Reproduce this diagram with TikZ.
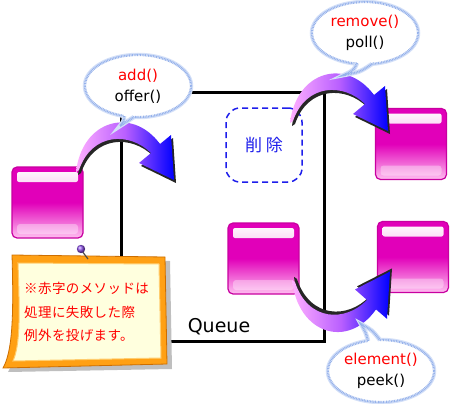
\documentclass[tikz,border=0pt]{standalone}
\usepackage{fontspec}
\setmainfont{DejaVu Sans}
\newfontfamily\jpnotefont{Noto Sans CJK JP}[LetterSpace=3]
\newfontfamily\jpwidefont{Noto Sans CJK JP}[LetterSpace=22]
\usetikzlibrary{shapes.geometric, calc}

\definecolor{magM}{RGB}{225,0,185}
\definecolor{magD}{RGB}{200,0,160}
\definecolor{magL}{RGB}{255,190,240}
\definecolor{arrPink}{RGB}{255,175,255}
\definecolor{arrViolet}{RGB}{185,95,255}
\definecolor{arrBlue}{RGB}{0,0,255}
\definecolor{bubLine}{RGB}{150,178,235}
\definecolor{bubHalo}{RGB}{212,224,248}
\definecolor{noteEdge}{RGB}{255,160,20}
\definecolor{noteDark}{RGB}{205,110,0}
\definecolor{noteFill}{RGB}{255,255,222}
\definecolor{noteInner}{RGB}{255,205,110}
\definecolor{noteRed}{RGB}{255,0,0}
\definecolor{pinViolet}{RGB}{140,80,230}
\definecolor{delBlue}{RGB}{30,30,235}

\tikzset{
  bigarrow/.pic={
    \fill[black!85, shift={(2,3)}] (0,0) .. controls (6,-52) and (56,-66) .. (84,-28) -- (95,-37) -- (98,8) -- (63,-9) -- (75,-19) .. controls (54,-40) and (16,-40) .. (3,-2) -- cycle;
    \shade[left color=arrPink, right color=arrBlue, middle color=arrViolet] (0,0) .. controls (6,-52) and (56,-66) .. (84,-28) -- (95,-37) -- (98,8) -- (63,-9) -- (75,-19) .. controls (54,-40) and (16,-40) .. (3,-2) -- cycle;
  }
}

\begin{document}
\begin{tikzpicture}[x=1pt, y=-1pt,
    queuebox/.style={rectangle, draw=black, line width=3pt, minimum width=203pt, minimum height=248pt, inner sep=0pt},
    glossbox/.style={rectangle, rounded corners=5pt, minimum width=71pt, minimum height=71pt, draw=magD, line width=1.2pt,
      top color=magM, bottom color=magL, middle color=magM,
      path picture={
        \shade[top color=white, bottom color=magM!60, rounded corners=2pt]
          ($(path picture bounding box.north west)+(5pt,-5pt)$) rectangle ($(path picture bounding box.north east)+(-5pt,-15pt)$);
        \fill[white, opacity=.35, rounded corners=3pt]
          ($(path picture bounding box.south west)+(5pt,4pt)$) rectangle ($(path picture bounding box.south east)+(-5pt,14pt)$);
      }},
    delbox/.style={rectangle, rounded corners=14pt, draw=delBlue, line width=1.5pt, dash pattern=on 6pt off 4pt, minimum width=76pt, minimum height=74pt, text=delBlue, font=\jpwidefont\fontsize{17}{20}\selectfont},
    bubble/.style={ellipse, fill=white, draw=bubLine, line width=2.2pt, dash pattern=on 0.9pt off 0.7pt,
      preaction={draw=bubHalo, line width=4.5pt, solid},
      minimum width=106pt, minimum height=62pt, inner sep=0pt, align=center, font=\fontsize{15}{21}\selectfont},
    bubedge/.style={draw=bubLine, line width=2.2pt, dash pattern=on 0.9pt off 0.7pt, preaction={draw=bubHalo, line width=4.5pt, solid}},
    notetext/.style={text=noteRed, align=left, inner sep=0pt, font=\jpnotefont\fontsize{13.5}{23.5}\selectfont},
    qlabel/.style={inner sep=0pt, font=\fontsize{19}{21}\selectfont}
]
\useasboundingbox (0,0) rectangle (450,404);

% queue frame
\node[queuebox] (queue) at (222.5,217) {};

% elements
\node[glossbox] (boxL) at (47.5,202.5) {};
\node[glossbox] (boxUR) at (411,144) {};
\node[glossbox] (boxLR) at (413,257) {};
\node[glossbox] (boxM) at (263.5,258.5) {};
\node[delbox] (del) at (264,145) {削除};

% curved arrows
\pic at (76,172) {bigarrow};
\pic at (290,123) {bigarrow};
\pic[yscale=-1.05] at (292,280) {bigarrow};

% speech bubbles
\node[bubble] (bubAdd) at (138,86) {\textcolor{red}{add()}\\offer()};
\fill[white] (124,108) -- (124,116) .. controls (124,121) .. (120,126) .. controls (127,121) .. (134,117) -- (134,108) -- cycle;
\draw[bubedge] (124,116) .. controls (124,121) .. (120,126) .. controls (127,121) .. (134,117);

\node[bubble] (bubRemove) at (365,33) {\textcolor{red}{remove()}\\poll()};
\fill[white] (357,56) -- (357,63) .. controls (354,70) .. (344,75) .. controls (360,72) .. (372,64) -- (372,56) -- cycle;
\draw[bubedge] (357,63) .. controls (354,70) .. (344,75) .. controls (360,72) .. (372,64);

\node[bubble] (bubElement) at (381,371) {\textcolor{red}{element()}\\peek()};
\fill[white] (368,348) -- (368,341) .. controls (366,333) .. (361,324) .. controls (372,330) .. (380,340) -- (380,348) -- cycle;
\draw[bubedge] (368,341) .. controls (366,333) .. (361,324) .. controls (372,330) .. (380,340);

% sticky note
\fill[black!25] (17,260) -- (170,261) -- (172,369) -- (8,372) .. controls (17,356) and (19,325) .. (17,260) -- cycle;
\filldraw[fill=noteEdge, draw=noteDark, line width=0.8pt] (12,255) -- (165,257) -- (167,364) -- (3,368) .. controls (12,352) and (14,320) .. (12,255) -- cycle;
\filldraw[fill=noteFill, draw=noteInner, line width=1pt] (18,263) -- (159,264) -- (161,358) -- (13,361) .. controls (20,345) and (20,318) .. (18,263) -- cycle;
\draw[black!70, line width=1.2pt] (82,251) -- (88,259);
\shade[ball color=pinViolet] (81,249) circle (4.2);
\node[notetext, anchor=west] (note) at (24,312) {※赤字のメソッドは\\処理に失敗した際\\例外を投げます。};

\node[qlabel] (qname) at (219,327) {Queue};
\end{tikzpicture}
\end{document}
